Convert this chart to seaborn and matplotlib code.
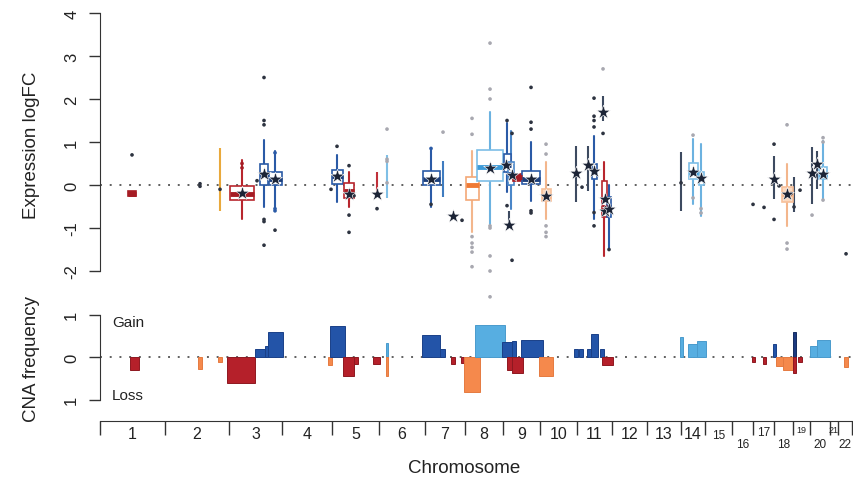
import numpy as np
import pandas as pd
import matplotlib
matplotlib.use("Agg")
import matplotlib.pyplot as plt
import seaborn as sns

sns.set_style("white")
plt.rcParams['font.family'] = ['Liberation Sans', 'DejaVu Sans']
plt.rcParams['axes.unicode_minus'] = False

# genome axis: chromosome boundaries (arbitrary genome units)
chrom_edges = [0, 65, 129, 182, 232, 279, 325, 365, 403, 440, 477, 512,
               547, 581, 605, 632, 653, 674, 693, 710, 730, 738, 752]
chrom_names = [str(i) for i in range(1, 23)]

# expression boxes per CNA region
box_pos = [32, 142, 164, 175, 237, 249, 331, 372, 390, 407, 411, 417, 431,
           446, 494, 504, 509, 593, 601, 687, 723]
box_width = [8, 24, 8, 13, 11, 10, 17, 13, 26, 7, 6, 9, 18,
             9, 5, 5, 4, 9, 5, 11, 8]
box_lo = [-0.25, -0.8, -0.52, -0.5, -0.4, -0.5, -0.5, -1.1, -0.9, -0.17, -0.56, 0.1, -0.37,
          -0.8, -0.8, -1.65, -1.5, -0.44, -0.72, -0.95, -0.33]
box_q1 = [-0.25, -0.35, 0.0, 0.0, 0.03, -0.3, 0.0, -0.35, 0.1, 0.3, 0.0, 0.1, 0.02,
          -0.37, 0.14, -0.75, -0.75, 0.14, 0.0, -0.4, 0.14]
box_med = [-0.2, -0.2, 0.25, 0.15, 0.2, -0.15, 0.15, 0.0, 0.42, 0.47, 0.25, 0.18, 0.15,
           -0.25, 0.3, -0.5, -0.5, 0.3, 0.15, -0.2, 0.25]
box_q3 = [-0.15, -0.02, 0.48, 0.3, 0.35, 0.05, 0.33, 0.18, 0.82, 0.72, 0.53, 0.25, 0.33,
          -0.1, 0.49, 0.1, -0.28, 0.51, 0.3, -0.05, 0.42]
box_hi = [-0.15, 0.58, 1.05, 0.8, 0.7, 0.3, 0.87, 0.8, 1.7, 1.45, 1.26, 0.25, 1.0,
          0.53, 1.15, 0.53, 0.0, 1.07, 0.95, 0.48, 1.02]
box_kind = ['drf', 'dr', 'db', 'db', 'db', 'dr', 'db', 'lo', 'lb', 'db', 'mb', 'drf', 'db',
            'lof', 'db', 'dr', 'db', 'lb', 'lb', 'lof', 'lb']

# whisker-only regions
seg_pos = [120, 277, 287, 343, 409, 476, 488, 503, 581, 674, 694, 712, 717]
seg_lo = [-0.6, -0.2, -0.3, -0.28, -1.0, -0.4, -0.13, 1.5, -0.6, -0.33, -0.63, -0.44, -0.1]
seg_hi = [0.85, 0.3, 0.7, 0.56, -0.6, 0.9, 0.9, 2.07, 0.77, 0.68, 0.18, 0.88, 0.8]
seg_kind = ['gold', 'dr', 'lb', 'mb', 'dk', 'dk', 'dk', 'dk', 'dk', 'dk', 'dk', 'dk', 'dk']

# mean expression per region (stars)
star_x = [142, 164, 175, 237, 249, 277, 331, 353, 390, 406, 412, 409, 431, 446,
          476, 488, 494, 503, 505, 505, 509, 593, 601, 674, 687, 712, 717, 723]
star_y = [-0.18, 0.25, 0.15, 0.2, -0.2, -0.22, 0.15, -0.72, 0.4, 0.47, 0.23, -0.93, 0.15, -0.25,
          0.28, 0.47, 0.32, 1.7, -0.33, -0.6, -0.56, 0.3, 0.16, 0.15, -0.2, 0.28, 0.5, 0.25]

# outlying genes
flier_x = [32, 100, 100, 120,
           142, 142, 164, 164, 164, 164, 164, 164, 157, 175, 175, 175, 175,
           237, 231, 249, 249, 249, 254,
           277, 287, 287, 287, 287,
           331, 331, 343, 362,
           372, 372, 372, 372, 372, 372, 372, 390, 390, 390, 390, 390, 390, 390, 390,
           407, 407, 412, 412, 431, 431, 431, 431, 431,
           446, 446, 446, 446, 446,
           482, 494, 494, 494, 494, 494, 494, 503, 503, 509,
           581, 593, 593, 601, 601,
           653, 664, 674, 674, 679,
           687, 687, 687, 694, 700, 691,
           712, 723, 723, 723, 746]
flier_y = [0.7, 0.03, -0.03, -0.1,
           0.5, 0.4, 2.5, 1.5, 1.4, -0.8, -0.85, -1.4, 0.1, -0.55, -0.6, -1.05, 0.75,
           0.9, -0.1, 0.45, -0.7, -1.1, -0.25,
           -0.55, 1.3, 0.6, 0.55, 0.05,
           -0.45, 0.85, 1.23, -0.82,
           1.55, 1.18, -1.2, -1.35, -1.45, -1.56, -1.9, 3.3, 2.23, 2.0, -0.95, -1.0, -1.65, -2.0, -2.6,
           1.5, -0.48, 1.2, -1.75, 2.27, 1.46, 1.3, -0.6, -0.65,
           0.95, 0.72, -0.95, -1.1, -1.2,
           -0.05, 2.02, 1.6, 1.5, 1.35, -0.64, -0.95, 2.7, 1.2, -1.5,
           0.05, 1.16, -0.3, -0.55, -0.65,
           -0.45, -0.52, 0.95, -0.8, -0.02,
           1.4, -1.35, -1.49, -0.51, -0.12, -0.2,
           -0.7, 1.1, 1.0, -0.35, -1.6]
flier_kind = ['dk', 'dk', 'dk', 'dk',
              'dr', 'dr', 'dk', 'dk', 'dk', 'dk', 'dk', 'dk', 'dk', 'mb', 'mb', 'dk', 'mb',
              'dk', 'dk', 'dk', 'dk', 'dk', 'dk',
              'dk', 'lt', 'lt', 'lt', 'lt',
              'dk', 'mb', 'lt', 'dk',
              'lt', 'lt', 'lt', 'lt', 'lt', 'lt', 'lt', 'lt', 'lt', 'lt', 'lt', 'lt', 'lt', 'lt', 'lt',
              'dk', 'dk', 'dk', 'dk', 'dk', 'dk', 'dk', 'dk', 'dk',
              'lt', 'lt', 'lt', 'lt', 'lt',
              'dk', 'dk', 'dk', 'dk', 'dk', 'dk', 'dk', 'lt', 'dk', 'dk',
              'dk', 'lt', 'lt', 'lt', 'lt',
              'dk', 'dk', 'dk', 'dk', 'dk',
              'lt', 'lt', 'lt', 'dk', 'dk', 'dk',
              'lt', 'lt', 'lt', 'lt', 'dk']

# CNA frequency segments (gain > 0, loss < 0)
cna_left = [30, 98, 118, 127, 155, 165, 168, 228, 230, 243, 254, 273, 286, 286,
            322, 340, 351, 361, 364, 375, 402, 412, 407, 412, 421, 439,
            474, 479, 487, 491, 500, 502, 580, 588, 597,
            652, 663, 673, 676, 683, 693, 693, 698, 710, 717, 744]
cna_right = [39, 102, 122, 155, 165, 168, 183, 232, 245, 254, 258, 280, 288, 288,
             340, 345, 355, 364, 380, 405, 412, 416, 412, 423, 443, 453,
             478, 483, 491, 498, 504, 513, 583, 597, 606,
             655, 666, 676, 683, 695, 696, 696, 702, 717, 730, 748]
cna_value = [-0.3, -0.28, -0.12, -0.62, 0.19, 0.26, 0.6, -0.18, 0.73, -0.45, -0.17, -0.17, 0.33, -0.45,
             0.51, 0.19, -0.17, -0.15, -0.83, 0.75, 0.35, 0.38, -0.3, -0.37, 0.4, -0.45,
             0.19, 0.2, 0.19, 0.55, 0.2, -0.19, 0.46, 0.3, 0.37,
             -0.12, -0.17, 0.3, -0.2, -0.3, 0.58, -0.37, -0.12, 0.25, 0.4, -0.23]
cna_kind = ['dr', 'lo', 'lo', 'dr', 'db', 'db', 'db', 'lo', 'db', 'dr', 'dr', 'dr', 'lb', 'lo',
            'db', 'db', 'dr', 'dr', 'lo', 'lb', 'db', 'db', 'dr', 'dr', 'db', 'lo',
            'db', 'db', 'db', 'db', 'db', 'dr', 'lb', 'lb', 'lb',
            'dr', 'dr', 'db', 'lo', 'lo', 'nv', 'dr', 'dr', 'lb', 'lb', 'lo']

# styles
box_style = {  # edge, face, median, whisker
    'dr': ('#b8262e', 'white', '#a51c24', '#b8262e'),
    'drf': ('#a51c24', '#b8262e', '#a51c24', '#b8262e'),
    'db': ('#2a5aa6', 'white', '#1d3f7a', '#2a5aa6'),
    'mb': ('#4a86c8', 'white', '#2a5aa6', '#4a86c8'),
    'lb': ('#7dbde6', 'white', '#3d9ad8', '#6cb2e0'),
    'lo': ('#f3a877', 'white', '#ef7a35', '#f3b68c'),
    'lof': ('#f7c09a', '#fcd9bf', '#f6b88e', '#f3b68c'),
}
seg_colors = {'gold': '#e9a93c', 'dr': '#c0303a', 'lb': '#7fbfe6', 'mb': '#3f7cc0', 'dk': '#3d4a60'}
flier_colors = {'dk': '#2d3340', 'dr': '#a51c24', 'mb': '#2a5aa6', 'lt': '#a8a8b0'}
cna_colors = {'dr': '#b5202a', 'lo': '#f5894c', 'db': '#2354a8', 'lb': '#57aee1', 'nv': '#1c3a80'}
cna_edges = {'dr': '#8e1820', 'lo': '#e57a40', 'db': '#1a4088', 'lb': '#4a9bcc', 'nv': '#152c60'}
axis_col = '#333333'

fig = plt.figure(figsize=(8.54, 4.85), dpi=100)
ax1 = fig.add_axes([0.1171, 0.4214, 0.8806, 0.5586])
ax2 = fig.add_axes([0.1171, 0.161, 0.8806, 0.1972])

# --- expression panel ---
ax1.set_xlim(0, 752)
ax1.set_ylim(-2.2, 4.1)
ax1.axhline(0, color='#606060', lw=1.4, ls=(0, (1, 4)), zorder=0)

stats = [dict(med=m, q1=a, q3=b, whislo=lo, whishi=hi, fliers=[])
         for lo, a, m, b, hi in zip(box_lo, box_q1, box_med, box_q3, box_hi)]
bp = ax1.bxp(stats, positions=box_pos, widths=box_width, patch_artist=True,
             showcaps=False, showfliers=False, manage_ticks=False)
for i, k in enumerate(box_kind):
    edge, face, med, whisk = box_style[k]
    bp['boxes'][i].set(facecolor=face, edgecolor=edge, linewidth=1.2, zorder=3)
    bp['medians'][i].set(color=med, linewidth=3.5, solid_capstyle='butt', zorder=4)
    for w in bp['whiskers'][2 * i:2 * i + 2]:
        w.set(color=whisk, linewidth=1.5, linestyle='-', zorder=2)

ax1.vlines(seg_pos, seg_lo, seg_hi, colors=[seg_colors[k] for k in seg_kind], lw=1.5, zorder=2)

fliers = pd.DataFrame({'x': flier_x, 'y': flier_y, 'kind': flier_kind})
sns.scatterplot(data=fliers, x='x', y='y', hue='kind', palette=flier_colors, s=7,
                linewidth=0, legend=False, ax=ax1, zorder=5, clip_on=False)
sns.scatterplot(x=star_x, y=star_y, marker='*', s=110, color='#1c2436',
                edgecolor='white', linewidth=0.4, ax=ax1, zorder=6)

for s in ['top', 'right', 'bottom']:
    ax1.spines[s].set_visible(False)
ax1.spines['left'].set_bounds(-2, 4)
ax1.spines['left'].set_color(axis_col)
ax1.set_xticks([])
ax1.set_yticks(range(-2, 5))
ax1.set_yticklabels([str(v) for v in range(-2, 5)], rotation=90, va='center', fontsize=12)
ax1.tick_params(axis='y', left=True, length=8, width=1, pad=7, color=axis_col, labelcolor='#222')
ax1.set_xlabel('')
ax1.set_ylabel('Expression logFC', fontsize=13.5, color='#222')
ax1.yaxis.set_label_coords(-0.08, 0.5)

# --- CNA frequency panel ---
ax2.set_xlim(0, 752)
ax2.set_ylim(-1.15, 1.1)
ax2.axhline(0, color='#606060', lw=1.4, ls=(0, (1, 4)), zorder=0)
widths = np.subtract(cna_right, cna_left)
ax2.bar(cna_left, cna_value, width=widths, align='edge',
        color=[cna_colors[k] for k in cna_kind], edgecolor=[cna_edges[k] for k in cna_kind],
        linewidth=0.7, zorder=2)

ax2.text(12, 0.82, 'Gain', fontsize=11, va='center', color='#222')
ax2.text(12, -0.9, 'Loss', fontsize=11, va='center', color='#222')

for s in ['top', 'right']:
    ax2.spines[s].set_visible(False)
ax2.spines['left'].set_bounds(-1, 1)
ax2.spines['left'].set_color(axis_col)
ax2.spines['bottom'].set_position(('outward', 11))
ax2.spines['bottom'].set_bounds(0, 752)
ax2.spines['bottom'].set_color(axis_col)
ax2.set_yticks([-1, 0, 1])
ax2.set_yticklabels(['1', '0', '1'], rotation=90, va='center', fontsize=12)
ax2.set_xticks(chrom_edges)
ax2.set_xticklabels([])
ax2.tick_params(axis='y', left=True, length=8, width=1, pad=7, color=axis_col, labelcolor='#222')
ax2.tick_params(axis='x', bottom=True, length=10, width=1, color=axis_col)
ax2.set_ylabel('CNA frequency', fontsize=13.5, color='#222')
ax2.yaxis.set_label_coords(-0.08, 0.5)

# chromosome labels, staggered for the small ones
centers = [(a + b) / 2 for a, b in zip(chrom_edges[:-1], chrom_edges[1:])]
trans = ax2.get_xaxis_transform()
for name, cx in zip(chrom_names, centers):
    n = int(name)
    if n <= 14:
        y, fs = -0.29, 11.5
    elif n == 15:
        y, fs = -0.30, 8.5
    elif n in (19, 21):
        y, fs = -0.25, 6.5
    elif n % 2 == 0:
        y, fs = -0.40, 8.5
    else:
        y, fs = -0.27, 8.5
    ax2.text(cx, y, name, transform=trans, ha='center', va='center', fontsize=fs, color='#222')

fig.text(0.543, 0.035, 'Chromosome', ha='center', va='center', fontsize=13.5, color='#222')

fig.savefig('out.png', dpi=100)
